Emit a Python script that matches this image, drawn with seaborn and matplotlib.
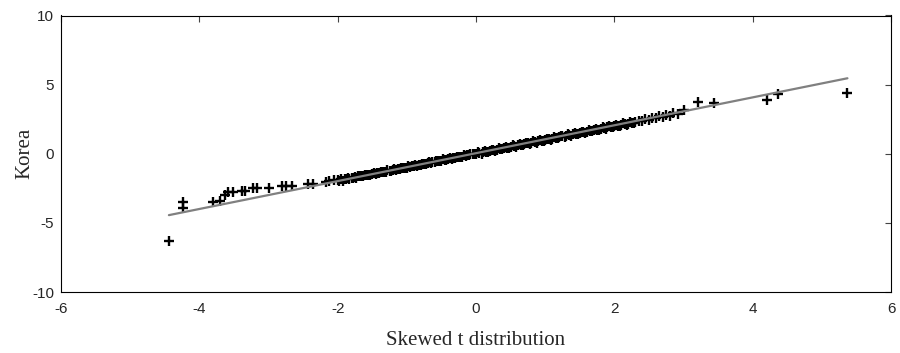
import matplotlib
matplotlib.use("Agg")
import matplotlib.pyplot as plt
import seaborn as sns
import pandas as pd

# ---- data ----
tail_left_x = [-4.44, -4.23, -4.24, -3.80, -3.70, -3.63, -3.58, -3.51, -3.39, -3.34,
               -3.22, -3.17, -3.00, -2.81, -2.74, -2.66]
tail_left_y = [-6.30, -3.48, -3.95, -3.48, -3.41, -2.99, -2.80, -2.75, -2.68, -2.68,
               -2.51, -2.51, -2.51, -2.34, -2.34, -2.34]

dense_x = [-2.43, -2.36, -2.17, -2.12, -2.05, -2.00, -1.95, -1.90, -1.85, -1.80,
           -1.75, -1.70, -1.65, -1.60, -1.55, -1.50, -1.45, -1.40, -1.35, -1.30,
           -1.25, -1.20, -1.15, -1.10, -1.05, -1.00, -0.95, -0.90, -0.85, -0.80,
           -0.75, -0.70, -0.65, -0.60, -0.55, -0.50, -0.45, -0.40, -0.35, -0.30,
           -0.25, -0.20, -0.15, -0.10, -0.05, 0.00, 0.05, 0.10, 0.15, 0.20,
           0.25, 0.30, 0.35, 0.40, 0.45, 0.50, 0.55, 0.60, 0.65, 0.70,
           0.75, 0.80, 0.85, 0.90, 0.95, 1.00, 1.05, 1.10, 1.15, 1.20,
           1.25, 1.30, 1.35, 1.40, 1.45, 1.50, 1.55, 1.60, 1.65, 1.70,
           1.75, 1.80, 1.85, 1.90, 1.95, 2.00, 2.05, 2.10, 2.15, 2.20,
           2.25, 2.30, 2.35, 2.40, 2.45, 2.50, 2.55, 2.60, 2.65, 2.70,
           2.75, 2.80, 2.85, 2.92]
dense_y = [-2.22, -2.18, -2.02, -1.98, -1.92, -1.88, -1.84, -1.80, -1.76, -1.72,
           -1.68, -1.64, -1.60, -1.56, -1.52, -1.48, -1.44, -1.39, -1.34, -1.29,
           -1.24, -1.19, -1.15, -1.10, -1.05, -1.00, -0.95, -0.90, -0.85, -0.80,
           -0.75, -0.70, -0.65, -0.60, -0.55, -0.50, -0.45, -0.40, -0.35, -0.30,
           -0.25, -0.20, -0.15, -0.10, -0.05, 0.00, 0.05, 0.10, 0.15, 0.20,
           0.25, 0.30, 0.35, 0.40, 0.45, 0.50, 0.55, 0.60, 0.65, 0.70,
           0.75, 0.80, 0.85, 0.90, 0.95, 1.00, 1.05, 1.10, 1.15, 1.20,
           1.25, 1.30, 1.35, 1.40, 1.45, 1.50, 1.55, 1.60, 1.65, 1.70,
           1.75, 1.80, 1.85, 1.90, 1.95, 2.00, 2.04, 2.08, 2.16, 2.18,
           2.26, 2.27, 2.38, 2.36, 2.48, 2.45, 2.58, 2.55, 2.70, 2.66,
           2.80, 2.76, 2.92, 2.88]

# second pass through the solid band (points between the ones above)
band_x = [-1.98, -1.93, -1.88, -1.83, -1.78, -1.73, -1.68, -1.63, -1.58, -1.53,
          -1.48, -1.43, -1.38, -1.33, -1.28, -1.23, -1.18, -1.13, -1.08, -1.03,
          -0.98, -0.93, -0.88, -0.83, -0.78, -0.73, -0.68, -0.63, -0.58, -0.53,
          -0.48, -0.43, -0.38, -0.33, -0.28, -0.23, -0.18, -0.13, -0.08, -0.03,
          0.03, 0.08, 0.13, 0.18, 0.23, 0.28, 0.33, 0.38, 0.43, 0.48,
          0.53, 0.58, 0.63, 0.68, 0.73, 0.78, 0.83, 0.88, 0.93, 0.98,
          1.03, 1.08, 1.13, 1.18, 1.23, 1.28, 1.33, 1.38, 1.43, 1.48,
          1.53, 1.58, 1.63, 1.68, 1.73, 1.78, 1.83, 1.88, 1.93, 1.98,
          2.03, 2.08, 2.13, 2.18, 2.23, 2.28]
band_y = [-1.98, -1.97, -1.86, -1.85, -1.74, -1.73, -1.62, -1.62, -1.51, -1.52,
          -1.40, -1.41, -1.30, -1.31, -1.20, -1.22, -1.10, -1.12, -1.01, -1.02,
          -0.91, -0.92, -0.81, -0.82, -0.71, -0.72, -0.61, -0.62, -0.51, -0.52,
          -0.41, -0.42, -0.31, -0.32, -0.21, -0.22, -0.11, -0.12, -0.01, -0.02,
          0.10, 0.01, 0.20, 0.11, 0.30, 0.21, 0.40, 0.31, 0.50, 0.41,
          0.60, 0.51, 0.70, 0.61, 0.80, 0.71, 0.90, 0.81, 1.00, 0.91,
          1.10, 1.01, 1.20, 1.11, 1.30, 1.21, 1.40, 1.31, 1.50, 1.41,
          1.60, 1.51, 1.70, 1.61, 1.80, 1.71, 1.90, 1.81, 2.00, 1.91,
          2.10, 2.01, 2.20, 2.11, 2.30, 2.21]

tail_right_x = [3.01, 3.21, 3.44, 4.20, 4.37, 5.37]
tail_right_y = [3.14, 3.74, 3.67, 3.91, 4.35, 4.42]

ref_line_x = [-4.44, 5.37]
ref_line_y = [-4.44, 5.46]

x_ticks = [-6, -4, -2, 0, 2, 4, 6]
y_ticks = [-10, -5, 0, 5, 10]
x_label = "Skewed t distribution"
y_label = "Korea"

pts = pd.DataFrame({
    "x": tail_left_x + dense_x + band_x + tail_right_x,
    "y": tail_left_y + dense_y + band_y + tail_right_y,
})
ref = pd.DataFrame({"x": ref_line_x, "y": ref_line_y})

sns.set_style("white")
plt.rcParams["font.family"] = ["Liberation Sans", "DejaVu Sans"]
plt.rcParams["axes.unicode_minus"] = False

fig = plt.figure(figsize=(9.0, 3.53), dpi=100)
ax = fig.add_axes([61 / 900, 1 - 292 / 353, (891 - 61) / 900, (292 - 15.5) / 353])

sns.scatterplot(data=pts, x="x", y="y", marker="+", color="black", s=55,
                linewidth=1.7, ax=ax, legend=False, zorder=2)
sns.lineplot(data=ref, x="x", y="y", color="#808080", linewidth=1.6, ax=ax,
             legend=False, zorder=3)

ax.set_xlim(-6, 6)
ax.set_ylim(-10, 10)
ax.set_xticks(x_ticks)
ax.set_yticks(y_ticks)
ax.tick_params(direction="in", length=4.5, width=0.8, color="#444444",
               top=True, right=True, labelsize=11)
ax.tick_params(axis="x", pad=7)
ax.tick_params(axis="y", pad=5)
for s in ax.spines.values():
    s.set_visible(True)
    s.set_color("black")
    s.set_linewidth(0.8)

ax.set_xlabel(x_label, family=["Liberation Serif", "DejaVu Serif"], fontsize=15, labelpad=11)
ax.set_ylabel(y_label, family=["Liberation Serif", "DejaVu Serif"], fontsize=15, labelpad=-2)

fig.savefig("out.png", dpi=100)
